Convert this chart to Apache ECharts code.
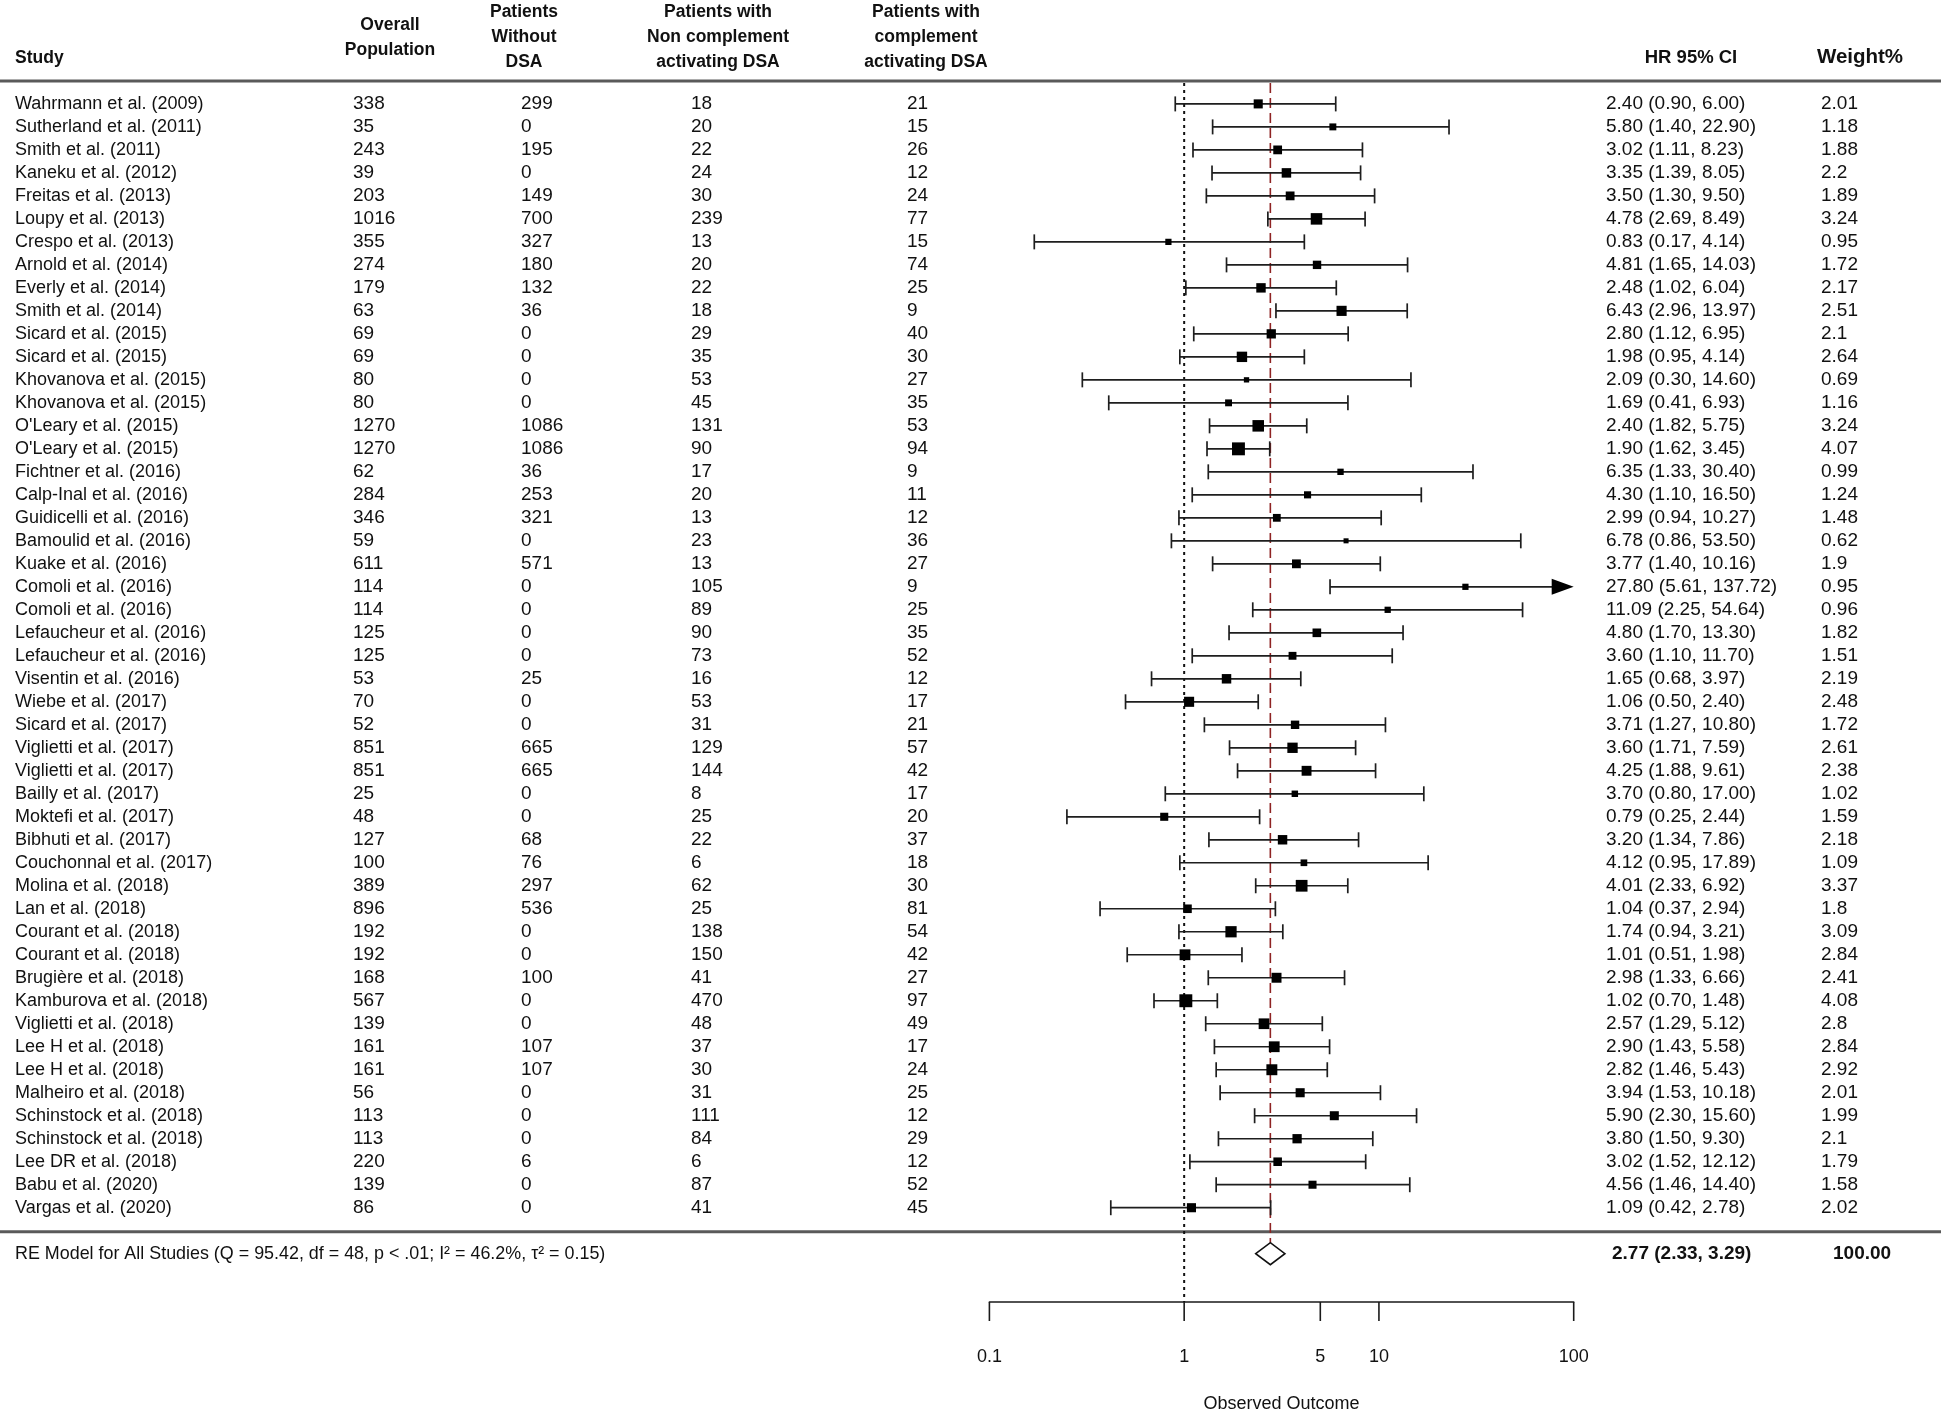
<!DOCTYPE html>
<html>
<head>
<meta charset="utf-8">
<script src="https://cdn.jsdelivr.net/npm/echarts/dist/echarts.min.js"></script>
<style>html,body{margin:0;padding:0;background:#fff}#c{width:1949px;height:1418px}</style>
</head>
<body>
<div id="c"></div>
<script>
const studies = ["Wahrmann et al. (2009)","Sutherland et al. (2011)","Smith et al. (2011)","Kaneku et al. (2012)","Freitas et al. (2013)","Loupy et al. (2013)","Crespo et al. (2013)","Arnold et al. (2014)","Everly et al. (2014)","Smith et al. (2014)","Sicard et al. (2015)","Sicard et al. (2015)","Khovanova et al. (2015)","Khovanova et al. (2015)","O'Leary et al. (2015)","O'Leary et al. (2015)","Fichtner et al. (2016)","Calp-Inal et al. (2016)","Guidicelli et al. (2016)","Bamoulid et al. (2016)","Kuake et al. (2016)","Comoli et al. (2016)","Comoli et al. (2016)","Lefaucheur et al. (2016)","Lefaucheur et al. (2016)","Visentin et al. (2016)","Wiebe et al. (2017)","Sicard et al. (2017)","Viglietti et al. (2017)","Viglietti et al. (2017)","Bailly et al. (2017)","Moktefi et al. (2017)","Bibhuti et al. (2017)","Couchonnal et al. (2017)","Molina et al. (2018)","Lan et al. (2018)","Courant et al. (2018)","Courant et al. (2018)","Brugière et al. (2018)","Kamburova et al. (2018)","Viglietti et al. (2018)","Lee H et al. (2018)","Lee H et al. (2018)","Malheiro et al. (2018)","Schinstock et al. (2018)","Schinstock et al. (2018)","Lee DR et al. (2018)","Babu et al. (2020)","Vargas et al. (2020)"];
const overallPopulation = [338,35,243,39,203,1016,355,274,179,63,69,69,80,80,1270,1270,62,284,346,59,611,114,114,125,125,53,70,52,851,851,25,48,127,100,389,896,192,192,168,567,139,161,161,56,113,113,220,139,86];
const withoutDSA = [299,0,195,0,149,700,327,180,132,36,0,0,0,0,1086,1086,36,253,321,0,571,0,0,0,0,25,0,0,665,665,0,0,68,76,297,536,0,0,100,0,0,107,107,0,0,0,6,0,0];
const nonComplementDSA = [18,20,22,24,30,239,13,20,22,18,29,35,53,45,131,90,17,20,13,23,13,105,89,90,73,16,53,31,129,144,8,25,22,6,62,25,138,150,41,470,48,37,30,31,111,84,6,87,41];
const complementDSA = [21,15,26,12,24,77,15,74,25,9,40,30,27,35,53,94,9,11,12,36,27,9,25,35,52,12,17,21,57,42,17,20,37,18,30,81,54,42,27,97,49,17,24,25,12,29,12,52,45];
const hrLabels = ["2.40 (0.90, 6.00)","5.80 (1.40, 22.90)","3.02 (1.11, 8.23)","3.35 (1.39, 8.05)","3.50 (1.30, 9.50)","4.78 (2.69, 8.49)","0.83 (0.17, 4.14)","4.81 (1.65, 14.03)","2.48 (1.02, 6.04)","6.43 (2.96, 13.97)","2.80 (1.12, 6.95)","1.98 (0.95, 4.14)","2.09 (0.30, 14.60)","1.69 (0.41, 6.93)","2.40 (1.82, 5.75)","1.90 (1.62, 3.45)","6.35 (1.33, 30.40)","4.30 (1.10, 16.50)","2.99 (0.94, 10.27)","6.78 (0.86, 53.50)","3.77 (1.40, 10.16)","27.80 (5.61, 137.72)","11.09 (2.25, 54.64)","4.80 (1.70, 13.30)","3.60 (1.10, 11.70)","1.65 (0.68, 3.97)","1.06 (0.50, 2.40)","3.71 (1.27, 10.80)","3.60 (1.71, 7.59)","4.25 (1.88, 9.61)","3.70 (0.80, 17.00)","0.79 (0.25, 2.44)","3.20 (1.34, 7.86)","4.12 (0.95, 17.89)","4.01 (2.33, 6.92)","1.04 (0.37, 2.94)","1.74 (0.94, 3.21)","1.01 (0.51, 1.98)","2.98 (1.33, 6.66)","1.02 (0.70, 1.48)","2.57 (1.29, 5.12)","2.90 (1.43, 5.58)","2.82 (1.46, 5.43)","3.94 (1.53, 10.18)","5.90 (2.30, 15.60)","3.80 (1.50, 9.30)","3.02 (1.52, 12.12)","4.56 (1.46, 14.40)","1.09 (0.42, 2.78)"];
// plotted estimates and CI limits (as drawn in the picture)
const hrPlot = [2.40,5.80,3.02,3.35,3.50,4.78,0.83,4.81,2.48,6.43,2.80,1.98,2.09,1.69,2.40,1.90,6.35,4.30,2.99,6.78,3.77,27.80,11.09,4.80,3.60,1.65,1.06,3.71,3.60,4.25,3.70,0.79,3.20,4.12,4.01,1.04,1.74,1.01,2.98,1.02,2.57,2.90,2.82,3.94,5.90,3.80,3.02,4.56,1.09];
const ciLow = [0.90,1.40,1.11,1.39,1.30,2.69,0.17,1.65,1.02,2.96,1.12,0.95,0.30,0.41,1.35,1.31,1.33,1.10,0.94,0.86,1.40,5.61,2.25,1.70,1.10,0.68,0.50,1.27,1.71,1.88,0.80,0.25,1.34,0.95,2.33,0.37,0.94,0.51,1.33,0.70,1.29,1.43,1.46,1.53,2.30,1.50,1.07,1.46,0.42];
const ciHigh = [6.00,22.90,8.23,8.05,9.50,8.49,4.14,14.03,6.04,13.97,6.95,4.14,14.60,6.93,4.26,2.75,30.40,16.50,10.27,53.50,10.16,137.72,54.64,13.30,11.70,3.97,2.40,10.80,7.59,9.61,17.00,2.44,7.86,17.89,6.92,2.94,3.21,1.98,6.66,1.48,5.12,5.58,5.43,10.18,15.60,9.30,8.55,14.40,2.78];
const weights = [2.01,1.18,1.88,2.2,1.89,3.24,0.95,1.72,2.17,2.51,2.1,2.64,0.69,1.16,3.24,4.07,0.99,1.24,1.48,0.62,1.9,0.95,0.96,1.82,1.51,2.19,2.48,1.72,2.61,2.38,1.02,1.59,2.18,1.09,3.37,1.8,3.09,2.84,2.41,4.08,2.8,2.84,2.92,2.01,1.99,2.1,1.79,1.58,2.02];
const summaryLabel = "RE Model for All Studies (Q = 95.42, df = 48, p < .01; I² = 46.2%, τ² = 0.15)";
const summaryHR = 2.77, summaryLow = 2.33, summaryHigh = 3.29;
const summaryHRLabel = "2.77 (2.33, 3.29)";
const summaryWeight = "100.00";
const xTicks = [0.1, 1, 5, 10, 100];
const nullValue = 1;
const headers = [
  {text: "Study", x: 15, align: 'left', y: 58},
  {text: "Overall\nPopulation", x: 390, align: 'center', y: 38},
  {text: "Patients\nWithout\nDSA", x: 524, align: 'center', y: 37},
  {text: "Patients with\nNon complement\nactivating DSA", x: 718, align: 'center', y: 37},
  {text: "Patients with\ncomplement\nactivating DSA", x: 926, align: 'center', y: 37},
  {text: "HR 95% CI", x: 1691, align: 'center', y: 58, size: 18.5},
  {text: "Weight%", x: 1860, align: 'center', y: 57, size: 20.5}
];

// ---- layout ----
const FONT = 'Liberation Sans';
const FS = 19, FS_NAME = 18, FS_HEAD = 17.5;
const colX = {study: 15, overall: 353, without: 521, nonComp: 691, comp: 907, hr: 1606, weight: 1821};
const nRows = studies.length;
const summaryRow = nRows + 1;
const yMin = -1, yMax = 52.1, rowH = 23.1;
const gridTop = 104.0 - rowH;
const gridLeft = 989.4, gridWidth = 584.3;
const sizeFor = w => 6.4 * Math.sqrt(w);

const chart = echarts.init(document.getElementById('c'), null, {renderer: 'canvas'});

function txt(text, x, y, opts) {
  return {type: 'text', style: Object.assign({text: text, x: x, y: y, align: 'left', verticalAlign: 'middle',
    fontSize: FS, fontFamily: FONT, fill: '#111'}, opts || {})};
}

const ciData = hrPlot.map((v, i) => [v, i, ciLow[i], ciHigh[i], weights[i]]);

const option = {
  animation: false,
  backgroundColor: '#fff',
  grid: {left: gridLeft, top: gridTop, width: gridWidth, height: rowH * (yMax - yMin)},
  xAxis: {
    type: 'log', logBase: 10, min: 0.1, max: 100,
    axisLine: {show: true, onZero: false, lineStyle: {color: '#1a1a1a', width: 1.6}},
    axisTick: {show: false}, axisLabel: {show: false}, splitLine: {show: false},
    name: 'Observed Outcome', nameLocation: 'middle', nameGap: 93,
    nameTextStyle: {fontSize: FS_NAME, fontFamily: FONT, color: '#111'}
  },
  yAxis: {type: 'value', inverse: true, min: yMin, max: yMax, show: false},
  graphic: headers.map(h => ({
    type: 'text', x: h.x, y: h.y,
    style: {text: h.text, align: h.align, verticalAlign: 'middle', fontSize: h.size || FS_HEAD,
      fontWeight: 'bold', fontFamily: FONT, fill: '#111', lineHeight: 25}
  })),
  series: [
    { // horizontal separators
      type: 'custom', silent: true, clip: false,
      data: [[1, -1.0], [1, 49.05]],
      renderItem: (params, api) => {
        const y = api.coord([1, api.value(1)])[1];
        return {type: 'line', shape: {x1: 0, y1: y, x2: api.getWidth() - 8, y2: y},
          style: {stroke: '#5a5a5a', lineWidth: 3}};
      }
    },
    { // null reference line (dotted)
      type: 'custom', silent: true, clip: false,
      data: [[nullValue, 0]],
      renderItem: (params, api) => {
        const cs = params.coordSys;
        const x = api.coord([api.value(0), 0])[0];
        return {type: 'line', shape: {x1: x, y1: cs.y + 2, x2: x, y2: cs.y + cs.height},
          style: {stroke: '#111', lineWidth: 2, lineDash: [3, 4]}};
      }
    },
    { // summary reference line (dashed, red)
      type: 'custom', silent: true, clip: false,
      data: [[summaryHR, summaryRow]],
      renderItem: (params, api) => {
        const cs = params.coordSys;
        const p = api.coord([api.value(0), api.value(1)]);
        return {type: 'line', shape: {x1: p[0], y1: cs.y + 2, x2: p[0], y2: p[1] - 11},
          style: {stroke: '#8e2323', lineWidth: 1.6, lineDash: [10, 5]}};
      }
    },
    { // confidence intervals and point estimates
      type: 'custom', silent: true, clip: false,
      encode: {x: [0, 2, 3], y: 1},
      data: ciData,
      renderItem: (params, api) => {
        const cs = params.coordSys;
        const xMax = cs.x + cs.width;
        const i = api.value(1);
        const pe = api.coord([api.value(0), i]);
        const y = pe[1];
        const xl = api.coord([api.value(2), i])[0];
        let xh = api.coord([api.value(3), i])[0];
        const clipped = xh > xMax;
        if (clipped) xh = xMax;
        const st = {stroke: '#1e1e1e', lineWidth: 1.7};
        const ch = [];
        ch.push({type: 'line', shape: {x1: xl, y1: y, x2: clipped ? xh - 20 : xh, y2: y}, style: st});
        ch.push({type: 'line', shape: {x1: xl, y1: y - 7.5, x2: xl, y2: y + 7.5}, style: st});
        if (clipped) {
          ch.push({type: 'polygon', shape: {points: [[xh, y], [xh - 22, y - 8], [xh - 22, y + 8]]}, style: {fill: '#000'}});
        } else {
          ch.push({type: 'line', shape: {x1: xh, y1: y - 7.5, x2: xh, y2: y + 7.5}, style: st});
        }
        const s = sizeFor(api.value(4));
        ch.push({type: 'rect', shape: {x: pe[0] - s / 2, y: y - s / 2, width: s, height: s}, style: {fill: '#000'}});
        return {type: 'group', children: ch};
      }
    },
    { // summary diamond
      type: 'custom', silent: true, clip: false,
      data: [[summaryHR, summaryRow, summaryLow, summaryHigh]],
      renderItem: (params, api) => {
        const r = api.value(1);
        const pe = api.coord([api.value(0), r]);
        const xl = api.coord([api.value(2), r])[0];
        const xh = api.coord([api.value(3), r])[0];
        return {type: 'polygon', shape: {points: [[xl, pe[1]], [pe[0], pe[1] - 11], [xh, pe[1]], [pe[0], pe[1] + 11]]},
          style: {fill: '#fff', stroke: '#111', lineWidth: 1.6}};
      }
    },
    { // axis ticks and labels
      type: 'custom', silent: true, clip: false,
      data: xTicks.map(v => [v, 0]),
      renderItem: (params, api) => {
        const cs = params.coordSys;
        const x = api.coord([api.value(0), 0])[0];
        const y0 = cs.y + cs.height;
        return {type: 'group', children: [
          {type: 'line', shape: {x1: x, y1: y0, x2: x, y2: y0 + 19}, style: {stroke: '#1a1a1a', lineWidth: 1.6}},
          txt(String(xTicks[params.dataIndex]), x, y0 + 55, {align: 'center', fontSize: FS_NAME})
        ]};
      }
    },
    { // table text per study
      type: 'custom', silent: true, clip: false,
      data: studies.map((s, i) => [1, i]),
      renderItem: (params, api) => {
        const i = params.dataIndex;
        const y = api.coord([1, api.value(1)])[1];
        return {type: 'group', children: [
          txt(studies[i], colX.study, y, {fontSize: FS_NAME}),
          txt(String(overallPopulation[i]), colX.overall, y),
          txt(String(withoutDSA[i]), colX.without, y),
          txt(String(nonComplementDSA[i]), colX.nonComp, y),
          txt(String(complementDSA[i]), colX.comp, y),
          txt(hrLabels[i], colX.hr, y),
          txt(String(weights[i]), colX.weight, y)
        ]};
      }
    },
    { // summary row text
      type: 'custom', silent: true, clip: false,
      data: [[1, summaryRow]],
      renderItem: (params, api) => {
        const y = api.coord([1, api.value(1)])[1];
        return {type: 'group', children: [
          txt(summaryLabel, colX.study, y, {fontSize: 17.9}),
          txt(summaryHRLabel, colX.hr + 6, y, {fontWeight: 'bold'}),
          txt(summaryWeight, colX.weight + 12, y, {fontWeight: 'bold'})
        ]};
      }
    }
  ]
};
chart.setOption(option);
</script>
</body>
</html>
